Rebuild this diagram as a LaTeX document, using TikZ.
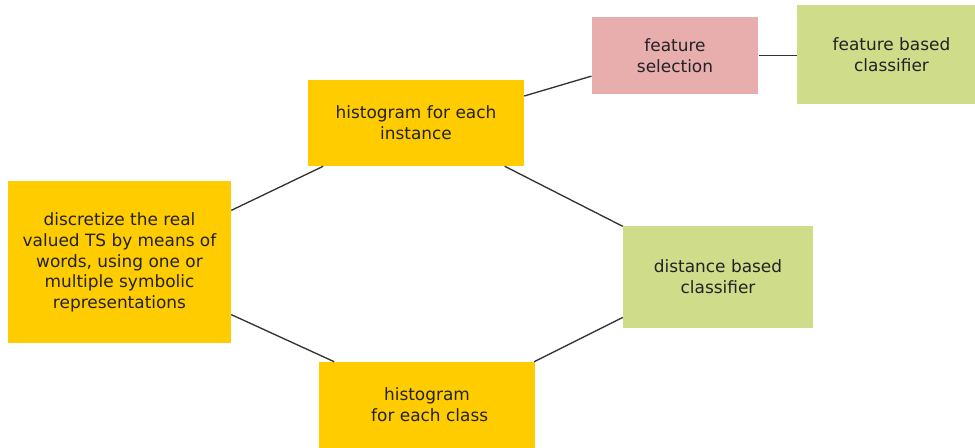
\documentclass[tikz,border=0pt]{standalone}
\usepackage{fontspec}
\setmainfont{DejaVu Sans}
\definecolor{boxyellow}{HTML}{FFCC00}
\definecolor{boxgreen}{HTML}{CFDD8A}
\definecolor{boxpink}{HTML}{E8AEAE}
\definecolor{inkgray}{HTML}{222222}
\definecolor{linegray}{HTML}{333333}
\tikzset{
  box/.style={rectangle, inner sep=2pt, align=center, text=inkgray,
    font=\fontsize{12.7}{15.6}\selectfont},
  yellowbox/.style={box, fill=boxyellow},
  greenbox/.style={box, fill=boxgreen},
  pinkbox/.style={box, fill=boxpink},
  link/.style={draw=linegray, line width=1pt}
}
\begin{document}
\begin{tikzpicture}[x=0.75pt, y=-0.75pt]
  \useasboundingbox (0,0) rectangle (975,448);
  \clip (0,0) rectangle (975,448);

  % boxes
  \node[yellowbox, minimum width=167.25pt, minimum height=121.5pt] (disc) at (119.5,262.5)
    {discretize the real\\valued TS by means of\\words, using one or\\multiple symbolic\\representations};
  \node[yellowbox, minimum width=162pt, minimum height=64.5pt] (hinst) at (416,123)
    {histogram for each\\instance};
  \node[yellowbox, minimum width=162pt, minimum height=64.5pt] (hclass) at (427,405)
    {histogram\\\ for each class};
  \node[pinkbox, minimum width=125pt, minimum height=58pt] (fsel) at (675,55.3)
    {feature\\selection};
  \node[greenbox, minimum width=141.75pt, minimum height=74.25pt] (fclass) at (891.5,54.5)
    {feature based\\classifier};
  \node[greenbox, minimum width=142.5pt, minimum height=76.5pt] (dclass) at (718,277)
    {distance based\\classifier};

  % connectors
  \draw[link] (disc.25) -- (hinst.205.1);
  \draw[link] (hinst.14.8) -- (fsel.194.4);
  \draw[link] (fsel.east) -- (fclass.west |- fsel.east);
  \draw[link] (hinst.-26.6) -- (dclass.152.8);
  \draw[link] (disc.-25) -- (hclass.155.9);
  \draw[link] (hclass.22.96) -- (dclass.203.7);
\end{tikzpicture}
\end{document}
